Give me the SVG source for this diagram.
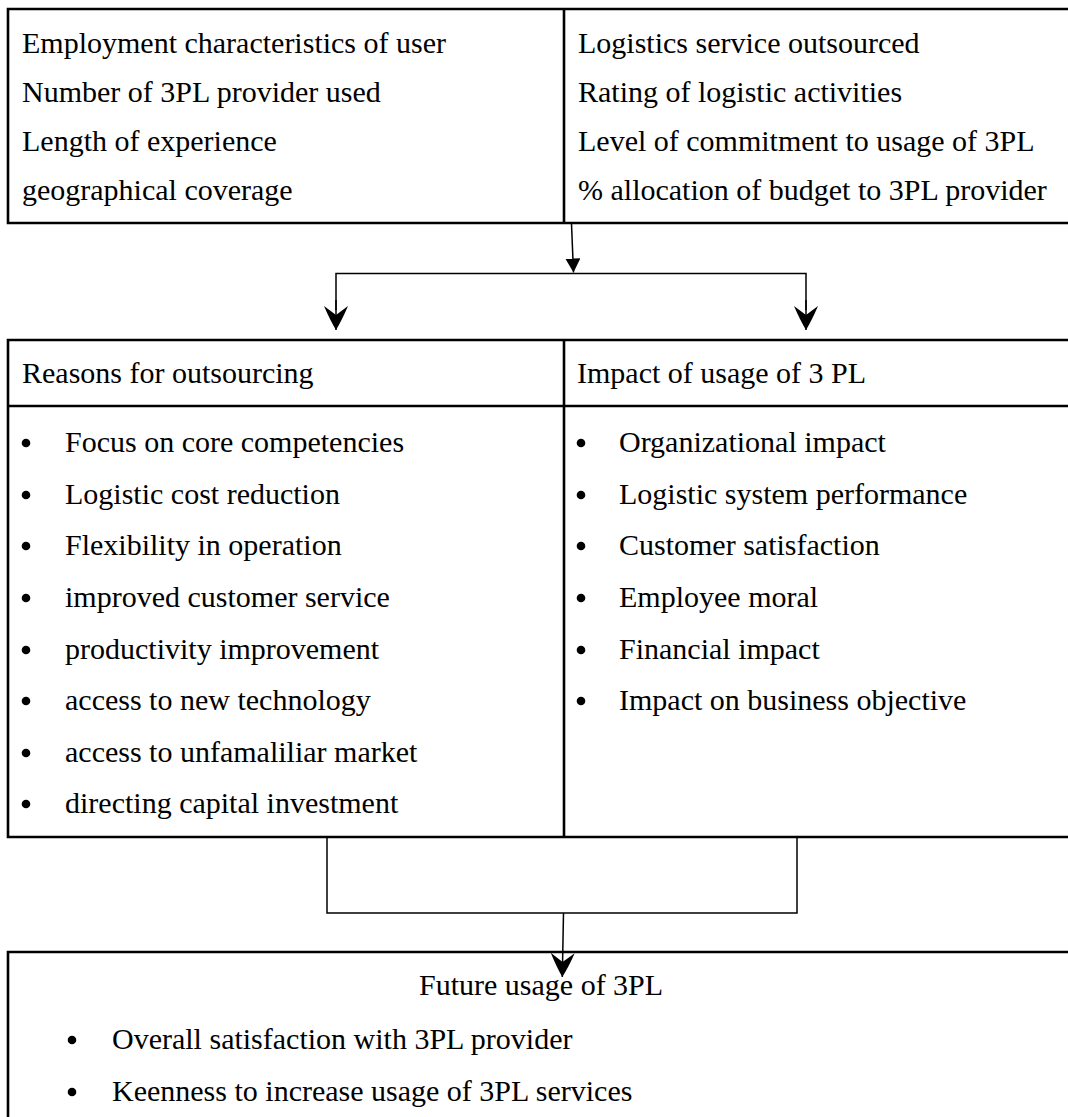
<svg xmlns="http://www.w3.org/2000/svg" width="1068" height="1117" viewBox="0 0 1068 1117">
<style>
.box{fill:none;stroke:#000;stroke-width:2.6}
.con{fill:none;stroke:#000;stroke-width:1.5}
text{font-family:"Liberation Serif","Times New Roman",serif;font-size:30px;fill:#000}
.dot{fill:#000}
</style>
<defs>
<marker id="tri" markerUnits="userSpaceOnUse" viewBox="0 0 14 15" refX="14" refY="7.5" markerWidth="14" markerHeight="15" orient="auto">
<path d="M0,0 L14,7.5 L0,15 Z" fill="#000"/>
</marker>
<marker id="stealth" markerUnits="userSpaceOnUse" viewBox="0 0 24 24" refX="24" refY="12" markerWidth="24" markerHeight="24" orient="auto">
<path d="M0,0 Q14,6 24,12 Q14,18 0,24 L9,12 Z" fill="#000"/>
</marker>
</defs>
<rect width="1068" height="1117" fill="#fff"/>

<g id="top-box">
<path class="box" d="M1070,9 H8 V223 H1070 M564,9 V223"/>
<text x="22" y="53">Employment characteristics of user</text>
<text x="22" y="102">Number of 3PL provider used</text>
<text x="22" y="151">Length of experience</text>
<text x="22" y="200">geographical coverage</text>
<text x="578" y="53">Logistics service outsourced</text>
<text x="578" y="102">Rating of logistic activities</text>
<text x="578" y="151">Level of commitment to usage of 3PL</text>
<text x="578" y="200">% allocation of budget to 3PL provider</text>
</g>

<g id="reasons">
<path class="box" d="M564,340 H8 V837 H564 M8,406 H564"/>
<text x="22" y="383">Reasons for outsourcing</text>
<circle class="dot" cx="26" cy="443" r="4.3"/><text x="65" y="452">Focus on core competencies</text>
<circle class="dot" cx="26" cy="495" r="4.3"/><text x="65" y="504">Logistic cost reduction</text>
<circle class="dot" cx="26" cy="546" r="4.3"/><text x="65" y="555">Flexibility in operation</text>
<circle class="dot" cx="26" cy="598" r="4.3"/><text x="65" y="607">improved customer service</text>
<circle class="dot" cx="26" cy="650" r="4.3"/><text x="65" y="659">productivity improvement</text>
<circle class="dot" cx="26" cy="701" r="4.3"/><text x="65" y="710">access to new technology</text>
<circle class="dot" cx="26" cy="753" r="4.3"/><text x="65" y="762">access to unfamaliliar market</text>
<circle class="dot" cx="26" cy="804" r="4.3"/><text x="65" y="813">directing capital investment</text>
</g>

<g id="impact">
<path class="box" d="M564,340 H1070 M564,406 H1070 M564,837 H1070 M564,340 V837"/>
<text x="577" y="383">Impact of usage of 3 PL</text>
<circle class="dot" cx="581" cy="443" r="4.3"/><text x="619" y="452">Organizational impact</text>
<circle class="dot" cx="581" cy="495" r="4.3"/><text x="619" y="504">Logistic system performance</text>
<circle class="dot" cx="581" cy="546" r="4.3"/><text x="619" y="555">Customer satisfaction</text>
<circle class="dot" cx="581" cy="598" r="4.3"/><text x="619" y="607">Employee moral</text>
<circle class="dot" cx="581" cy="650" r="4.3"/><text x="619" y="659">Financial impact</text>
<circle class="dot" cx="581" cy="701" r="4.3"/><text x="619" y="710">Impact on business objective</text>
</g>

<g id="future">
<path class="box" d="M1070,952 H8 V1120"/>
<text x="419" y="995">Future usage of 3PL</text>
<circle class="dot" cx="72" cy="1040" r="4.3"/><text x="112" y="1049">Overall satisfaction with 3PL provider</text>
<circle class="dot" cx="72" cy="1092" r="4.3"/><text x="112" y="1101">Keenness to increase usage of 3PL services</text>
</g>

<g id="connectors">
<line class="con" x1="571.5" y1="224" x2="573.5" y2="272.5" marker-end="url(#tri)"/>
<path class="con" d="M336,310 V273.5 H806 V310"/>
<line class="con" x1="336" y1="300" x2="336" y2="330" marker-end="url(#stealth)"/>
<line class="con" x1="806" y1="300" x2="806" y2="330" marker-end="url(#stealth)"/>
<path class="con" d="M327,838 V913 H797 V838"/>
<line class="con" x1="563.5" y1="913" x2="562.3" y2="977" marker-end="url(#stealth)"/>
</g>
</svg>
